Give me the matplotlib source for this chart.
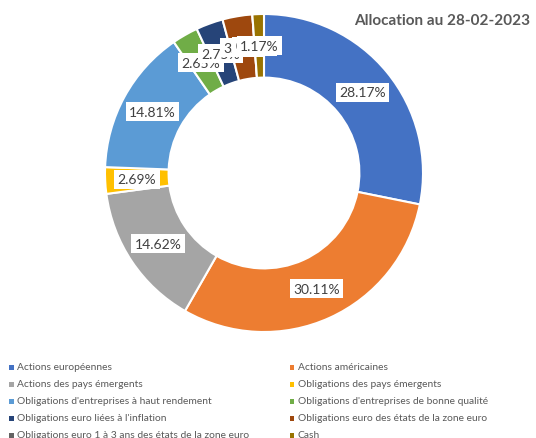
import numpy as np
import matplotlib
matplotlib.use("Agg")
import matplotlib.pyplot as plt

categories = [
    "Actions européennes",
    "Actions américaines",
    "Actions des pays émergents",
    "Obligations des pays émergents",
    "Obligations d'entreprises à haut rendement",
    "Obligations d'entreprises de bonne qualité",
    "Obligations euro liées à l'inflation",
    "Obligations euro des états de la zone euro",
    "Obligations euro 1 à 3 ans des états de la zone euro",
    "Cash",
]
values = [28.17, 30.11, 14.62, 2.69, 14.81, 2.65, 2.75, 3.03, 0.00, 1.17]
colors = ["#4472C4", "#ED7D31", "#A5A5A5", "#FFC000", "#5B9BD5",
          "#70AD47", "#264478", "#9E480E", "#636363", "#997300"]
title = "Allocation au 28-02-2023"

W, H = 536, 439
fig = plt.figure(figsize=(W / 100, H / 100), dpi=100)
fig.patch.set_facecolor("white")

cx, cy, r = 264, 174, 159
ax = fig.add_axes([(cx - r) / W, (H - cy - r) / H, 2 * r / W, 2 * r / H])
ax.axis("off")

font = "Lato"
wedges, _ = ax.pie(values, startangle=90, counterclock=False, colors=colors,
                   radius=1, wedgeprops=dict(width=0.4, edgecolor="white", linewidth=1.5))
ax.set_xlim(-1, 1)
ax.set_ylim(-1, 1)

total = sum(values)
cum = 0.0
for i, v in enumerate(values):
    mid = (cum + v / 2) / total * 2 * np.pi
    cum += v
    rm = 0.8
    x, y = rm * np.sin(mid), rm * np.cos(mid)
    ax.text(x, y, f"{v:.2f}%", ha="center", va="center", fontsize=10,
            color="#404040", family=font, zorder=10 + i,
            bbox=dict(boxstyle="square,pad=0.25", facecolor="white", edgecolor="none"))

fig.text(530 / W, 1 - 21 / H, title, ha="right", va="center", fontsize=11,
         fontweight="bold", color="#595959", family=font)

# legend
col_x = [11, 292]
row_y = [368, 385, 402, 419, 436]
for i, (lab, c) in enumerate(zip(categories, colors)):
    col = i % 2
    row = i // 2
    mx = col_x[col]
    my = row_y[row]
    fig.patches.append(plt.Rectangle(((mx - 2.5) / W, 1 - (my + 2.5) / H), 5 / W, 5 / H,
                                     transform=fig.transFigure, facecolor=c,
                                     edgecolor="none"))
    fig.text((mx + 6) / W, 1 - my / H, lab, ha="left", va="center", fontsize=7.35,
             color="#595959", family=font)

fig.savefig("out.png", dpi=100, facecolor="white")
